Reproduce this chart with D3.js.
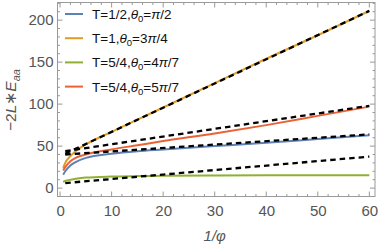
<!DOCTYPE html>
<html><head><meta charset="utf-8">
<script src="https://cdn.jsdelivr.net/npm/d3@7"></script>
<style>body{margin:0;background:#fff}svg{display:block;font-family:"Liberation Sans",Arial,sans-serif}</style>
</head><body><svg id="c" width="382" height="250"></svg>
<script>
const xs = [0.6, 1, 2, 3, 5, 10, 15, 20, 30, 40, 50, 60];
const blueVals   = [16, 20, 27, 31, 36, 41, 44, 46, 50, 54, 58.5, 63];
const orangeVals = [24, 30, 38, 44, 52, 67, 81.5, 96, 125, 154, 182, 211];
const greenVals  = [7.5, 8.5, 10, 11, 12.5, 13.8, 14.3, 14.6, 15, 15.2, 15.3, 15.4];
const redVals    = [21, 25, 32, 36, 40, 46, 51, 56, 65, 75, 86, 97];
const dashX = [1, 60];
const dashOrange = [41, 211];
const dashRed = [44, 98];
const dashBlue = [40, 64];
const dashGreen = [6, 37.5];
const xTicks = [0, 10, 20, 30, 40, 50, 60];
const yTicks = [0, 50, 100, 150, 200];
const legendLabels = [["1/2","π/2"],["1","3π/4"],["5/4","4π/7"],["5/4","5π/7"]];
const colors = ["#5E81B5","#E19C24","#8FB032","#EB6235"];

const svg = d3.select("#c");
const L = 57.5, R = 375, T = 2.5, B = 196.5;
const x = d3.scaleLinear().domain([-0.5, 61.1]).range([L, R]);
const y = d3.scaleLinear().domain([-10, 221]).range([B, T]);

const line = d3.line().x(d=>x(d[0])).y(d=>y(d[1])).curve(d3.curveMonotoneX);
const series = [blueVals, orangeVals, greenVals, redVals];
series.forEach((vals,i)=>{
  svg.append("path").attr("d", line(xs.map((v,j)=>[v, vals[j]])))
    .attr("fill","none").attr("stroke",colors[i]).attr("stroke-width",2);
});
[dashOrange, dashRed, dashBlue, dashGreen].forEach(d=>{
  svg.append("path").attr("d", d3.line().x(p=>x(p[0])).y(p=>y(p[1]))(dashX.map((v,j)=>[v,d[j]])))
    .attr("fill","none").attr("stroke","#000").attr("stroke-width",2.3).attr("stroke-dasharray","5.5,4");
});

// frame
const fc = "#999";
svg.append("rect").attr("x",L).attr("y",T).attr("width",R-L).attr("height",B-T)
  .attr("fill","none").attr("stroke",fc).attr("stroke-width",1);
const gx = svg.append("g").attr("transform",`translate(0,${B})`)
  .call(d3.axisBottom(x).tickValues(xTicks).tickSize(0).tickPadding(9).tickFormat(d3.format("d")));
const gy = svg.append("g").attr("transform",`translate(${L},0)`)
  .call(d3.axisLeft(y).tickValues(yTicks).tickSize(0).tickPadding(4).tickFormat(d3.format("d")));
[gx,gy].forEach(g=>{g.select(".domain").remove();
  g.selectAll("text").attr("fill","#555").attr("font-size",15).attr("font-family","Liberation Sans, Arial, sans-serif");});
// tick marks (inside, all four sides)
const ticksG = svg.append("g").attr("stroke",fc).attr("stroke-width",1);
d3.range(0,61,2).forEach(v=>{
  const len = v%10===0?5:2.5;
  ticksG.append("line").attr("x1",x(v)).attr("x2",x(v)).attr("y1",B).attr("y2",B-len);
  ticksG.append("line").attr("x1",x(v)).attr("x2",x(v)).attr("y1",T).attr("y2",T+len);
});
d3.range(-10,221,10).forEach(v=>{
  const len = v%50===0?5:2.5;
  ticksG.append("line").attr("y1",y(v)).attr("y2",y(v)).attr("x1",L).attr("x2",L+len);
  ticksG.append("line").attr("y1",y(v)).attr("y2",y(v)).attr("x1",R).attr("x2",R-len);
});

// axis titles
const yt = svg.append("text").attr("transform","translate(16,100) rotate(-90)")
  .attr("text-anchor","middle").attr("fill","#555").attr("font-size",15.5);
yt.append("tspan").text("−2");
yt.append("tspan").attr("font-style","italic").text("L");
yt.append("tspan").text("∗");
yt.append("tspan").attr("font-style","italic").text("E");
yt.append("tspan").attr("font-style","italic").attr("font-size",11).attr("dy",4).text("aa");
const xt = svg.append("text").attr("x",x(30)).attr("y",241).attr("text-anchor","middle")
  .attr("fill","#555").attr("font-size",15).attr("font-style","italic").text("1/φ");

// legend
const lg = svg.append("g");
legendLabels.forEach((lab,i)=>{
  const yy = 14 + i*24.2;
  lg.append("line").attr("x1",65).attr("x2",83).attr("y1",yy).attr("y2",yy)
    .attr("stroke",colors[i]).attr("stroke-width",2);
  const t = lg.append("text").attr("x",92).attr("y",yy+5).attr("font-size",13.5).attr("fill","#111");
  t.append("tspan").text(`T=${lab[0]},`);
  t.append("tspan").attr("font-style","italic").text("θ");
  t.append("tspan").attr("font-size",9.5).attr("dy",3).text("0");
  t.append("tspan").attr("dy",-3).text("=");
  const m = lab[1].match(/^(\d*)π\/(\d+)$/);
  t.append("tspan").text(m[1]);
  t.append("tspan").attr("font-style","italic").text("π");
  t.append("tspan").text("/"+m[2]);
});
</script></body></html>
